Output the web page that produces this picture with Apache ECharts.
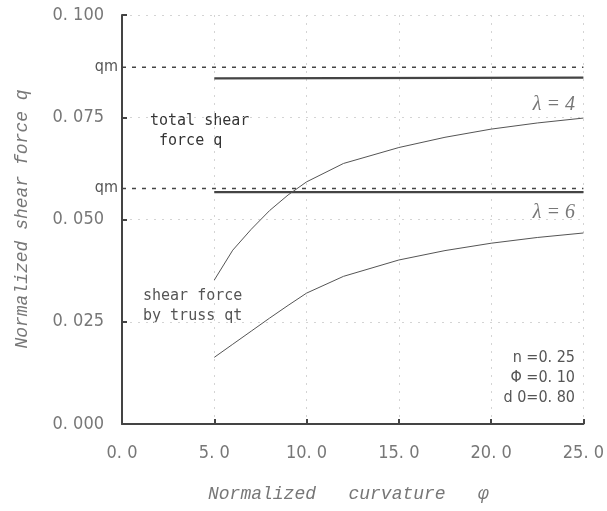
<!DOCTYPE html>
<html>
<head>
<meta charset="utf-8">
<script src="https://cdn.jsdelivr.net/npm/echarts@6/dist/echarts.min.js"></script>
<style>
  html, body { margin: 0; padding: 0; background: #fff; }
  #chart { width: 607px; height: 511px; }
</style>
</head>
<body>
<div id="chart"></div>
<script>
// curvature values (x) and shear forces
var phiTruss = [5, 6, 7, 8, 9, 10, 12, 15, 17.5, 20, 22.5, 25];
var qtLambda4 = [0.0352, 0.0425, 0.0476, 0.0522, 0.0560, 0.0592, 0.0637, 0.0676, 0.0701, 0.0721, 0.0736, 0.0748];
var qtLambda6 = [0.0163, 0.0195, 0.0227, 0.0259, 0.0290, 0.0320, 0.0361, 0.0401, 0.0424, 0.0442, 0.0456, 0.0467];

var phiTotal = [5, 25];
var qLambda4 = [0.0845, 0.0847];
var qLambda6 = [0.0567, 0.0567];

var phiQm = [0, 25];
var qmLambda4 = [0.0872, 0.0872];
var qmLambda6 = [0.0576, 0.0576];

var yTicks = [0, 0.025, 0.05, 0.075, 0.1];
var xTicks = [0, 5, 10, 15, 20, 25];

function pairs(xs, ys) {
  return xs.map(function (x, i) { return [x, ys[i]]; });
}

var tickFont = '"Liberation Sans Narrow", "DejaVu Sans Condensed", sans-serif';
var monoItalic = '"Liberation Mono", monospace';
var gothic = '"DejaVu Sans Mono", monospace';

var myChart = echarts.init(document.getElementById("chart"));
myChart.setOption({
  backgroundColor: "#fff",
  animation: false,
  grid: { left: 122, right: 22, top: 15, bottom: 87 },
  xAxis: {
    type: "value",
    min: xTicks[0],
    max: xTicks[xTicks.length - 1],
    interval: 5,
    axisLine: { lineStyle: { color: "#444", width: 2 } },
    axisTick: { inside: true, length: 5, lineStyle: { color: "#444", width: 2 } },
    axisLabel: {
      margin: 20,
      color: "#777",
      fontFamily: tickFont,
      fontSize: 18,
      formatter: function (v) { return v.toFixed(1).replace(".", ". "); }
    },
    splitLine: { show: true, lineStyle: { color: "#d4d4d4", type: [2, 6], width: 1 } }
  },
  yAxis: {
    type: "value",
    min: yTicks[0],
    max: yTicks[yTicks.length - 1],
    interval: 0.025,
    axisLine: { show: true, lineStyle: { color: "#444", width: 2 } },
    axisTick: { show: true, inside: true, length: 5, lineStyle: { color: "#444", width: 2 } },
    axisLabel: {
      margin: 18,
      color: "#777",
      fontFamily: tickFont,
      fontSize: 18,
      formatter: function (v) { return v.toFixed(3).replace(".", ". "); }
    },
    splitLine: { show: true, lineStyle: { color: "#d4d4d4", type: [2, 6], width: 1 } }
  },
  series: [
    {
      name: "qm4", type: "line", symbol: "none",
      data: pairs(phiQm, qmLambda4),
      lineStyle: { color: "#444", width: 1.5, type: [4, 6] }
    },
    {
      name: "qm6", type: "line", symbol: "none",
      data: pairs(phiQm, qmLambda6),
      lineStyle: { color: "#444", width: 1.5, type: [4, 6] }
    },
    {
      name: "q4", type: "line", symbol: "none",
      data: pairs(phiTotal, qLambda4),
      lineStyle: { color: "#444", width: 2.2 }
    },
    {
      name: "q6", type: "line", symbol: "none",
      data: pairs(phiTotal, qLambda6),
      lineStyle: { color: "#444", width: 2.2 }
    },
    {
      name: "qt4", type: "line", symbol: "none",
      data: pairs(phiTruss, qtLambda4),
      lineStyle: { color: "#555", width: 1 }
    },
    {
      name: "qt6", type: "line", symbol: "none",
      data: pairs(phiTruss, qtLambda6),
      lineStyle: { color: "#555", width: 1 }
    }
  ],
  graphic: [
    // axis titles
    {
      type: "text", x: 22, y: 219, rotation: Math.PI / 2,
      style: { text: "Normalized shear force q", font: "italic 18px " + monoItalic, fill: "#777", align: "center", verticalAlign: "middle" }
    },
    {
      type: "text", x: 208, y: 494,
      style: { text: "Normalized   curvature   \u03c6", font: "italic 18px " + monoItalic, fill: "#777", align: "left", verticalAlign: "middle" }
    },
    // qm labels
    {
      type: "text", x: 118, y: 67,
      style: { text: "qm", font: "16px " + tickFont, fill: "#555", align: "right", verticalAlign: "middle" }
    },
    {
      type: "text", x: 118, y: 188,
      style: { text: "qm", font: "16px " + tickFont, fill: "#555", align: "right", verticalAlign: "middle" }
    },
    {
      type: "text", x: 150, y: 131,
      style: { text: "total shear\n force q", font: "15px " + gothic, fill: "#333", lineHeight: 20, align: "left", verticalAlign: "middle" }
    },
    {
      type: "text", x: 143, y: 306,
      style: { text: "shear force\nby truss qt", font: "15px " + gothic, fill: "#555", lineHeight: 20, align: "left", verticalAlign: "middle" }
    },
    {
      type: "text", x: 575, y: 105,
      style: { text: "\u03bb = 4", font: "italic 20px \"Liberation Serif\", serif", fill: "#777", align: "right", verticalAlign: "middle" }
    },
    {
      type: "text", x: 575, y: 213,
      style: { text: "\u03bb = 6", font: "italic 20px \"Liberation Serif\", serif", fill: "#777", align: "right", verticalAlign: "middle" }
    },
    {
      type: "text", x: 575, y: 358,
      style: { text: "n =0. 25", font: "16px " + tickFont, fill: "#555", align: "right", verticalAlign: "middle" }
    },
    {
      type: "text", x: 575, y: 378,
      style: { text: "\u03a6 =0. 10", font: "16px " + tickFont, fill: "#555", align: "right", verticalAlign: "middle" }
    },
    {
      type: "text", x: 575, y: 398,
      style: { text: "d 0=0. 80", font: "16px " + tickFont, fill: "#555", align: "right", verticalAlign: "middle" }
    }
  ]
});
</script>
</body>
</html>
